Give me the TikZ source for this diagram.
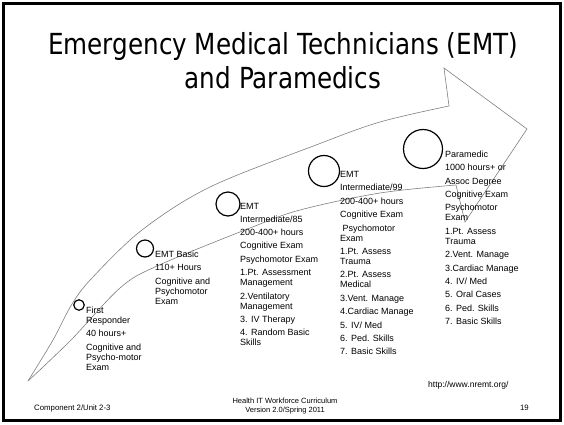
\documentclass[tikz,border=0pt]{standalone}
\usepackage{fontspec}
\setmainfont{Liberation Sans}
\newfontfamily\titlefont[FakeStretch=0.85]{DejaVu Sans}
\begin{document}
\begin{tikzpicture}[x=1pt,y=-1pt,
  arrowline/.style={draw=black!50, line width=0.6pt, line join=miter},
  stage/.style={draw=black, line width=1.2pt, circle, inner sep=0pt},
  info/.style={anchor=north west, inner sep=0pt, align=left, font=\fontsize{9}{10}\selectfont},
  foot/.style={inner sep=0pt, font=\fontsize{7.5}{9}\selectfont},
  ttl/.style={anchor=base, inner sep=0pt, font=\titlefont\fontsize{29}{34}\selectfont}]
\useasboundingbox (0,0) rectangle (564,424);
\fill[white] (0,0) rectangle (564,424);
\draw[line width=3pt] (3.5,3.5) rectangle (560.5,420.5);
% title
\node[ttl] (t1) at (283,54) {Emergency Medical Technicians (EMT)};
\node[ttl] (t2) at (283,88) {and Paramedics};
% arrow
\draw[arrowline] plot[smooth, tension=0.55] coordinates {(28,381) (53,340) (72,304) (92,278) (142,230) (210,187) (316,145) (380,122) (449,106)}
  -- (444,68) -- (527,129) -- (465,222) -- (456,185);
\draw[arrowline] plot[smooth, tension=0.55] coordinates {(28,381) (71,340) (120,288) (157,266) (250,228) (300,210) (380,193) (456,185)};
% circles
\node[stage, minimum size=10.5pt] (c1) at (79,305) {};
\node[stage, minimum size=17pt] (c2) at (145,248.5) {};
\node[stage, minimum size=24pt] (c3) at (228,204) {};
\node[stage, minimum size=31pt] (c4) at (324,171) {};
\node[stage, minimum size=39pt] (c5) at (423,149) {};
% texts
\def\g{\\[3.4pt]}
\node[info] (s1) at (86,306.5) {First\\Responder\g 40 hours+\g Cognitive and\\Psycho-motor\\Exam};
\node[info] (s2) at (155,250.5) {EMT Basic\g 110+ Hours\g Cognitive and\\Psychomotor\\Exam};
\node[info] (s3) at (240,203.5) {EMT\\[2.2pt]Intermediate/85\g 200-400+ hours\g Cognitive Exam\g Psychomotor Exam\g 1.Pt. Assessment\\Management\g 2.Ventilatory\\Management\g 3. IV Therapy\g 4. Random Basic\\Skills};
\node[info] (s4) at (340,171) {EMT\g Intermediate/99\g 200-400+ hours\g Cognitive Exam\g \hspace*{2.5pt}Psychomotor\\Exam\g 1.Pt. Assess\\Trauma\g 2.Pt. Assess\\Medical\g 3.Vent. Manage\g 4.Cardiac Manage\g 5. IV/ Med\g 6. Ped. Skills\g 7. Basic Skills};
\node[info] (s5) at (445,150.5) {Paramedic\g 1000 hours+ or\g Assoc Degree\g Cognitive Exam\g Psychomotor\\Exam\g 1.Pt. Assess\\Trauma\g 2.Vent. Manage\g 3.Cardiac Manage\g 4. IV/ Med\g 5. Oral Cases\g 6. Ped. Skills\g 7. Basic Skills};
% footer
\node[foot, anchor=west, font=\fontsize{8.5}{10}\selectfont] (url) at (428,385) {http://www.nremt.org/};
\node[foot, anchor=base west, font=\fontsize{7.8}{9}\selectfont] (comp) at (34,410) {Component 2/Unit 2-3};
\node[foot, align=center] (hit) at (285,406.5) {Health IT Workforce Curriculum\\Version 2.0/Spring 2011};
\node[foot, anchor=base east, font=\fontsize{7.8}{9}\selectfont] (pg) at (529,410) {19};
\end{tikzpicture}
\end{document}
